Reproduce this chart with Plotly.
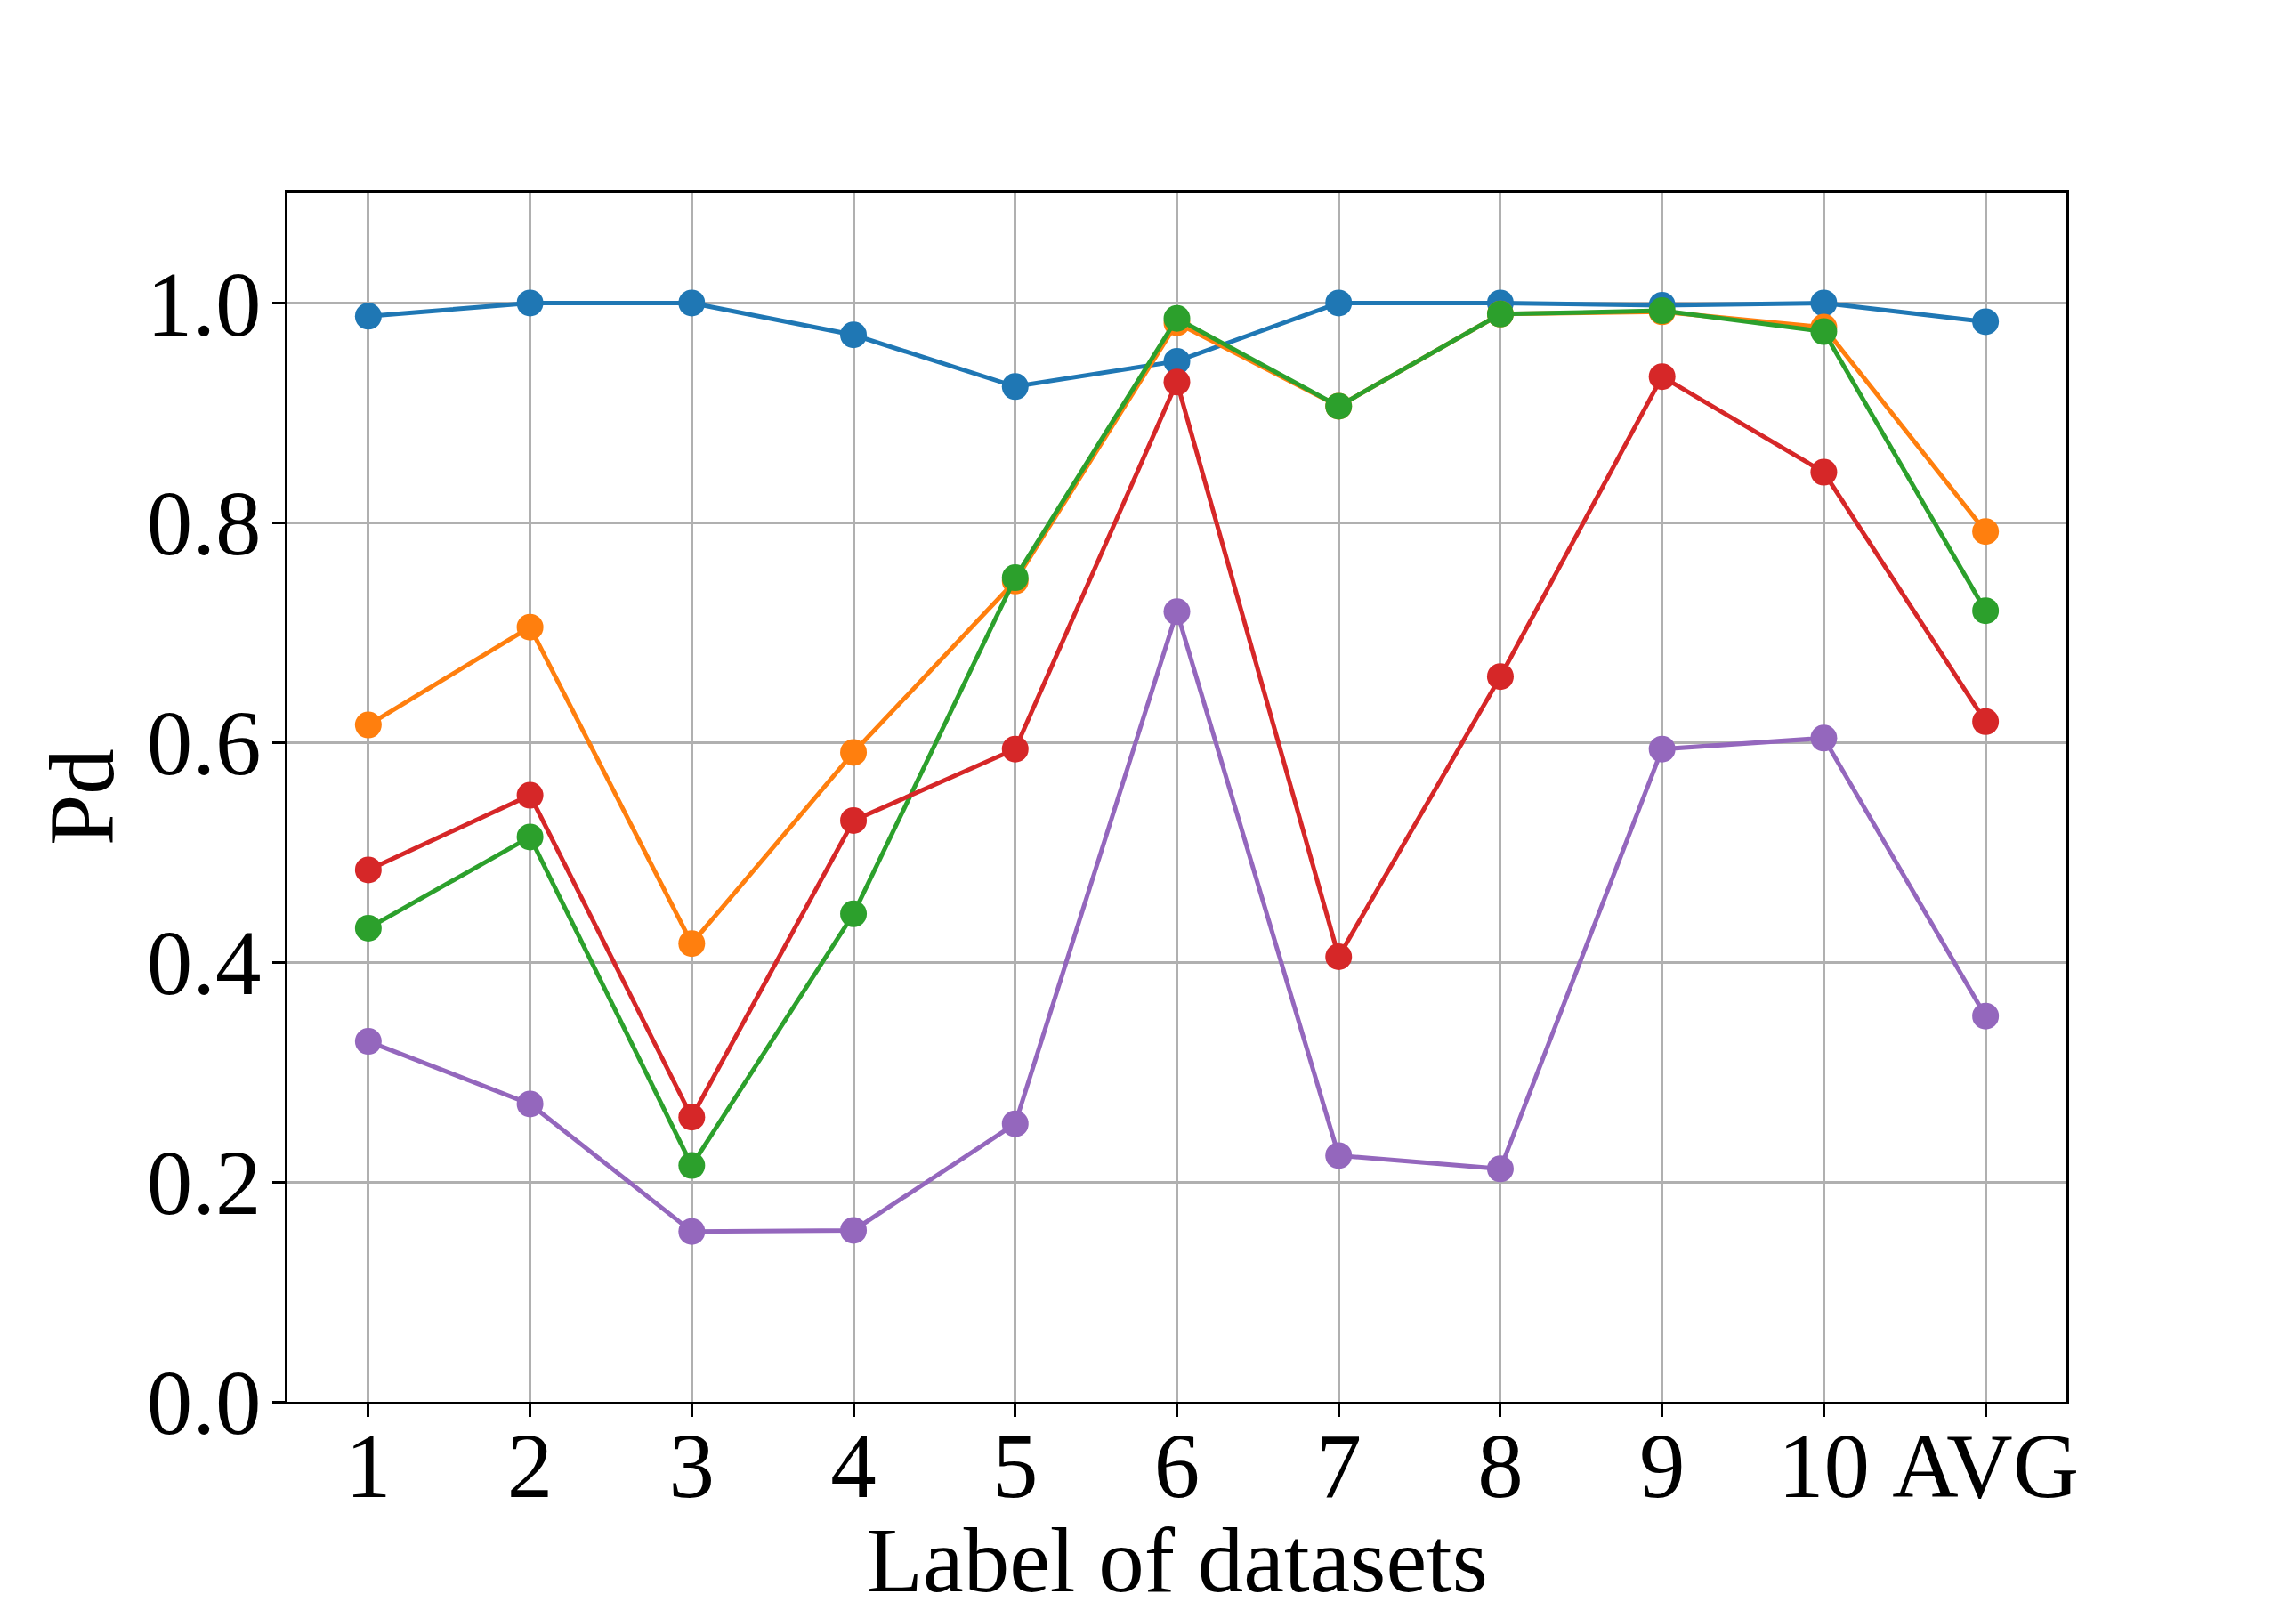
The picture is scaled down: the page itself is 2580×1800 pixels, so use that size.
import plotly.graph_objects as go

datasets = ["1", "2", "3", "4", "5", "6", "7", "8", "9", "10", "AVG"]

pd_blue = [0.988, 1.000, 1.000, 0.971, 0.924, 0.947, 1.000, 1.000, 0.998, 1.000, 0.983]
pd_orange = [0.616, 0.705, 0.417, 0.591, 0.747, 0.982, 0.906, 0.990, 0.992, 0.978, 0.792]
pd_green = [0.431, 0.514, 0.215, 0.444, 0.750, 0.986, 0.906, 0.990, 0.993, 0.974, 0.720]
pd_red = [0.484, 0.552, 0.259, 0.529, 0.594, 0.928, 0.405, 0.660, 0.933, 0.846, 0.619]
pd_purple = [0.328, 0.271, 0.155, 0.156, 0.253, 0.719, 0.224, 0.212, 0.594, 0.604, 0.351]

series = [
    ("Series 1", pd_blue, "#1f77b4"),
    ("Series 2", pd_orange, "#ff7f0e"),
    ("Series 3", pd_green, "#2ca02c"),
    ("Series 4", pd_red, "#d62728"),
    ("Series 5", pd_purple, "#9467bd"),
]

font = "Liberation Serif, Times New Roman, serif"
fsize = 103

fig = go.Figure()
for name, vals, color in series:
    fig.add_trace(go.Scatter(
        x=datasets, y=vals, name=name, mode="lines+markers",
        line=dict(color=color, width=5),
        marker=dict(color=color, size=30),
    ))

# page body adds ~8px offset, so the figure is 8px smaller on each side
fig.update_layout(
    width=2572, height=1792,
    margin=dict(l=315, r=258, t=209, b=225, autoexpand=False),
    plot_bgcolor="white", paper_bgcolor="white",
    showlegend=False,
    font=dict(family=font, size=fsize, color="black"),
)

axis_style = dict(
    showline=True, linecolor="black", linewidth=3, mirror=True,
    showgrid=True, gridcolor="#b0b0b0", gridwidth=2.5,
    ticks="outside", ticklen=14, tickwidth=3, tickcolor="black",
    tickfont=dict(family=font, size=fsize, color="black"),
    zeroline=False, automargin=False,
)

fig.update_xaxes(type="category", range=[-0.5, 10.5],
                 ticklabelstandoff=-34, **axis_style)
fig.update_yaxes(range=[0, 1.1], tickvals=[0, 0.2, 0.4, 0.6, 0.8, 1.0],
                 tickformat=".1f", ticklabelstandoff=-8, **axis_style)

# axis titles as annotations so the plot area keeps its size
fig.add_annotation(text="Label of datasets", xref="paper", yref="paper",
                   x=0.5, y=0, xanchor="center", yanchor="middle", yshift=-178,
                   showarrow=False, font=dict(family=font, size=fsize))
fig.add_annotation(text="Pd", xref="paper", yref="paper", textangle=-90,
                   x=0, y=0.5, xanchor="center", yanchor="middle", xshift=-231,
                   showarrow=False, font=dict(family=font, size=fsize))

fig.write_html("out.html")
